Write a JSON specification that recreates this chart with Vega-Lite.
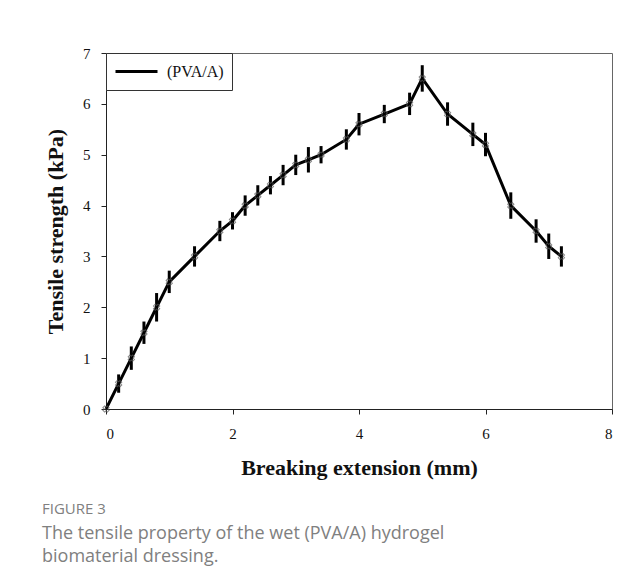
{
  "$schema": "https://vega.github.io/schema/vega-lite/v6.json",
  "width": 506,
  "height": 356,
  "autosize": {"type": "none"},
  "padding": {"left": 106, "top": 53, "right": 31, "bottom": 177},
  "background": "white",
  "data": {
    "values": [
      {"x": 0, "y": 0, "err": 0, "series": "(PVA/A)"},
      {"x": 0.2, "y": 0.5, "err": 0.18, "series": "(PVA/A)"},
      {"x": 0.4, "y": 1.0, "err": 0.23, "series": "(PVA/A)"},
      {"x": 0.6, "y": 1.5, "err": 0.22, "series": "(PVA/A)"},
      {"x": 0.8, "y": 2.0, "err": 0.28, "series": "(PVA/A)"},
      {"x": 1.0, "y": 2.5, "err": 0.22, "series": "(PVA/A)"},
      {"x": 1.4, "y": 3.0, "err": 0.2, "series": "(PVA/A)"},
      {"x": 1.8, "y": 3.5, "err": 0.2, "series": "(PVA/A)"},
      {"x": 2.0, "y": 3.7, "err": 0.17, "series": "(PVA/A)"},
      {"x": 2.2, "y": 4.0, "err": 0.2, "series": "(PVA/A)"},
      {"x": 2.4, "y": 4.2, "err": 0.2, "series": "(PVA/A)"},
      {"x": 2.6, "y": 4.4, "err": 0.18, "series": "(PVA/A)"},
      {"x": 2.8, "y": 4.6, "err": 0.2, "series": "(PVA/A)"},
      {"x": 3.0, "y": 4.8, "err": 0.2, "series": "(PVA/A)"},
      {"x": 3.2, "y": 4.9, "err": 0.25, "series": "(PVA/A)"},
      {"x": 3.4, "y": 5.0, "err": 0.17, "series": "(PVA/A)"},
      {"x": 3.8, "y": 5.3, "err": 0.2, "series": "(PVA/A)"},
      {"x": 4.0, "y": 5.6, "err": 0.22, "series": "(PVA/A)"},
      {"x": 4.4, "y": 5.8, "err": 0.18, "series": "(PVA/A)"},
      {"x": 4.8, "y": 6.0, "err": 0.22, "series": "(PVA/A)"},
      {"x": 5.0, "y": 6.5, "err": 0.26, "series": "(PVA/A)"},
      {"x": 5.4, "y": 5.8, "err": 0.23, "series": "(PVA/A)"},
      {"x": 5.8, "y": 5.4, "err": 0.23, "series": "(PVA/A)"},
      {"x": 6.0, "y": 5.2, "err": 0.23, "series": "(PVA/A)"},
      {"x": 6.4, "y": 4.0, "err": 0.26, "series": "(PVA/A)"},
      {"x": 6.8, "y": 3.5, "err": 0.23, "series": "(PVA/A)"},
      {"x": 7.0, "y": 3.2, "err": 0.25, "series": "(PVA/A)"},
      {"x": 7.2, "y": 3.0, "err": 0.2, "series": "(PVA/A)"}
    ]
  },
  "title": {
    "text": "FIGURE 3",
    "subtitle": ["The tensile property of the wet (PVA/A) hydrogel", "biomaterial dressing."],
    "orient": "bottom",
    "anchor": "start",
    "frame": "group",
    "dx": -64,
    "offset": 24,
    "font": "Open Sans",
    "fontSize": 15,
    "fontWeight": "normal",
    "color": "#808080",
    "subtitleFont": "Open Sans",
    "subtitleFontSize": 18,
    "subtitleColor": "#808080",
    "subtitleLineHeight": 23,
    "subtitlePadding": 8
  },
  "encoding": {
    "x": {
      "field": "x",
      "type": "quantitative",
      "scale": {"domain": [0, 8], "nice": false},
      "axis": {
        "title": "Breaking extension (mm)",
        "values": [0, 2, 4, 6, 8],
        "grid": false,
        "domainColor": "#222",
        "tickColor": "#222",
        "tickSize": 5,
        "labelPadding": 12,
        "labelFont": "Liberation Serif",
        "labelFontSize": 15,
        "labelColor": "#111",
        "titleFont": "Liberation Serif",
        "titleFontSize": 22,
        "titleFontWeight": "bold",
        "titleColor": "#111",
        "titlePadding": 16
      }
    },
    "y": {
      "field": "y",
      "type": "quantitative",
      "scale": {"domain": [0, 7], "nice": false},
      "axis": {
        "title": "Tensile strength (kPa)",
        "values": [0, 1, 2, 3, 4, 5, 6, 7],
        "grid": false,
        "domainColor": "#222",
        "tickColor": "#222",
        "tickSize": 5,
        "labelPadding": 11,
        "labelFont": "Liberation Serif",
        "labelFontSize": 15,
        "labelColor": "#111",
        "titleFont": "Liberation Serif",
        "titleFontSize": 22,
        "titleFontWeight": "bold",
        "titleColor": "#111",
        "titlePadding": 15
      }
    }
  },
  "layer": [
    {
      "mark": {"type": "errorbar", "color": "black", "thickness": 3},
      "encoding": {
        "yError": {"field": "err"}
      }
    },
    {
      "mark": {"type": "line", "strokeWidth": 3, "color": "black"},
      "encoding": {
        "color": {
          "field": "series",
          "type": "nominal",
          "scale": {"range": ["black"]},
          "legend": {
            "title": null,
            "orient": "top-left",
            "offset": 0,
            "strokeColor": "#333",
            "fillColor": "white",
            "padding": 8,
            "clipHeight": 21,
            "symbolType": "stroke",
            "symbolSize": 1764,
            "symbolStrokeWidth": 3,
            "labelFont": "Liberation Serif",
            "labelFontSize": 16,
            "labelColor": "#111",
            "labelOffset": 8
          }
        }
      }
    },
    {
      "mark": {"type": "point", "shape": "cross", "angle": 45, "size": 40, "color": "#555", "strokeWidth": 1, "filled": false},
      "encoding": {}
    }
  ],
  "config": {
    "view": {"stroke": "#666", "strokeWidth": 1}
  }
}
